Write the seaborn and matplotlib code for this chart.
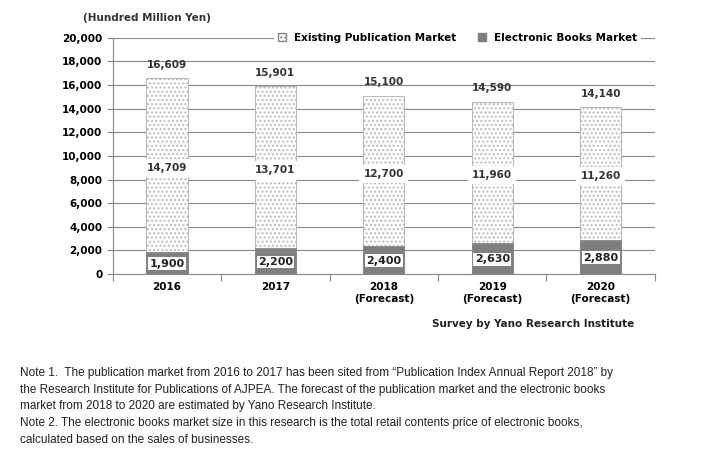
import matplotlib
matplotlib.use("Agg")
import matplotlib.pyplot as plt
import seaborn as sns
import pandas as pd

years = ["2016", "2017", "2018\n(Forecast)", "2019\n(Forecast)", "2020\n(Forecast)"]
existing = [14709, 13701, 12700, 11960, 11260]
ebooks = [1900, 2200, 2400, 2630, 2880]
totals = [16609, 15901, 15100, 14590, 14140]

plt.rcParams["font.family"] = "DejaVu Sans"
plt.rcParams["hatch.linewidth"] = 1.0
plt.rcParams["hatch.color"] = "#333333"
fig = plt.figure(figsize=(7.18, 4.67), dpi=100)
ax = fig.add_axes([0.157, 0.413, 0.755, 0.506])

df = pd.DataFrame({"year": years, "total": totals, "ebook": ebooks})
sns.barplot(data=df, x="year", y="total", ax=ax, color="white", width=0.38,
            edgecolor="#bbbbbb", linewidth=0.8, hatch="....", zorder=2)
sns.barplot(data=df, x="year", y="ebook", ax=ax, color="#7f7f7f", width=0.38,
            edgecolor="#7f7f7f", linewidth=0.5, zorder=3)

for i in range(len(years)):
    ax.text(i, totals[i] + 700, f"{totals[i]:,}", ha="center", va="bottom",
            fontsize=7.5, fontweight="bold", color="#333333", zorder=5)
    ax.text(i, ebooks[i] + existing[i] * 0.48, f"{existing[i]:,}", ha="center", va="center",
            fontsize=7.5, fontweight="bold", color="#333333", zorder=5,
            bbox=dict(facecolor="white", edgecolor="none", pad=3))
    ax.text(i, ebooks[i] / 2 - 60, f"{ebooks[i]:,}", ha="center", va="center",
            fontsize=8, fontweight="bold", color="#222222", zorder=5,
            bbox=dict(facecolor="white", edgecolor="none", boxstyle="square,pad=0.12"))

ax.set_ylim(0, 20000)
ax.set_yticks(range(0, 20001, 2000))
ax.set_yticklabels([f"{v:,}" for v in range(0, 20001, 2000)], fontsize=7.5, fontweight="bold")
ax.set_xlim(-0.5, 4.5)
ax.set_xticks([i + 0.5 for i in range(-1, 5)], minor=False)
ax.set_xticklabels([""] * 6)
ax.set_xticks(range(5), minor=True)
ax.set_xticklabels(years, minor=True, fontsize=7.5, fontweight="bold")
ax.tick_params(axis="x", which="minor", length=0, pad=6)
ax.tick_params(axis="x", which="major", length=5, color="#888888")
ax.tick_params(axis="y", length=4, color="#888888")
ax.set_xlabel("")
ax.set_ylabel("")
ax.grid(axis="y", color="#888888", linewidth=0.8, zorder=0)
ax.set_axisbelow(True)
for s in ["top", "right"]:
    ax.spines[s].set_visible(False)
for s in ["left", "bottom"]:
    ax.spines[s].set_color("#888888")

from matplotlib.patches import Patch
handles = [Patch(facecolor="white", edgecolor="#888888", hatch="...."),
           Patch(facecolor="#7f7f7f", edgecolor="#7f7f7f")]
leg = ax.legend(handles, ["Existing Publication Market", "Electronic Books Market"],
                loc="upper right", bbox_to_anchor=(0.985, 1.06), ncol=2, frameon=True,
                facecolor="white", edgecolor="none", framealpha=1,
                fontsize=7.5, handlelength=0.8, handleheight=0.8, columnspacing=2.0)
for t in leg.get_texts():
    t.set_fontweight("bold")

fig.text(0.115, 0.955, "(Hundred Million Yen)", fontsize=7.5, fontweight="bold", color="#333333")
fig.text(0.883, 0.30, "Survey by Yano Research Institute", fontsize=7.5, fontweight="bold",
         ha="right", color="#222222")

notes = ("Note 1.  The publication market from 2016 to 2017 has been sited from \u201cPublication Index Annual Report 2018\u201d by\n"
         "the Research Institute for Publications of AJPEA. The forecast of the publication market and the electronic books\n"
         "market from 2018 to 2020 are estimated by Yano Research Institute.\n"
         "Note 2. The electronic books market size in this research is the total retail contents price of electronic books,\n"
         "calculated based on the sales of businesses.")
fig.text(0.028, 0.215, notes, fontsize=8.5, va="top", color="#222222", linespacing=1.55,
         family="Liberation Sans")

fig.savefig("out.png", dpi=100)
